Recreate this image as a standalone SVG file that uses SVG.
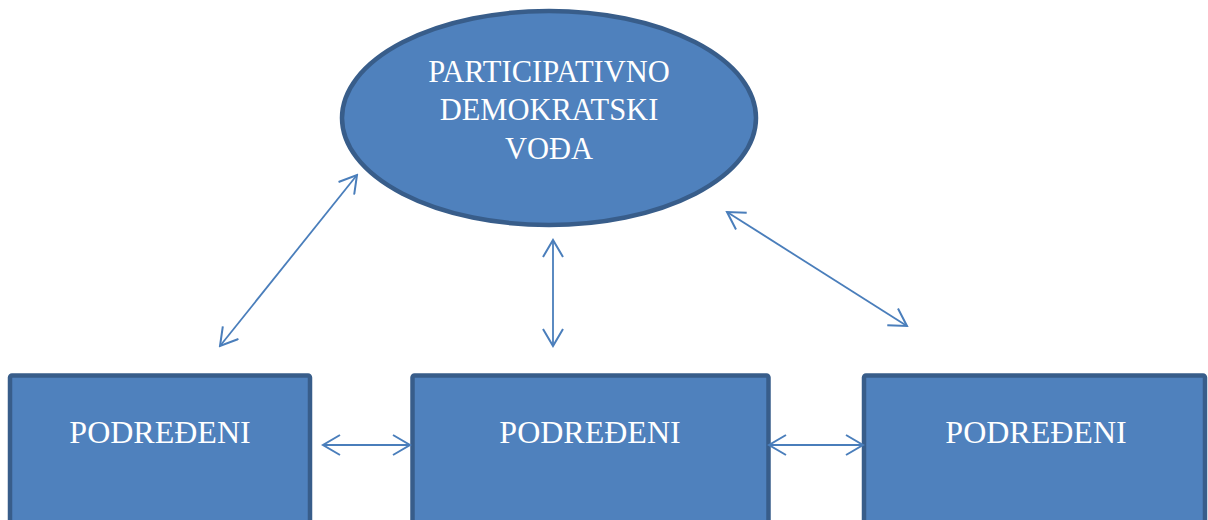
<svg xmlns="http://www.w3.org/2000/svg" width="1208" height="520" viewBox="0 0 1208 520">
<style>
.node{fill:#4F81BD;stroke:#385D8A;stroke-width:4.5}
.lbl{font-family:"Liberation Serif","Times New Roman",serif;fill:#FFFFFF;text-anchor:middle}
.con{stroke:#4A7EBB;stroke-width:1.8;fill:none}
</style>
<defs>
<marker id="ah" viewBox="0 0 20 22" refX="18" refY="11" markerWidth="20" markerHeight="22" markerUnits="userSpaceOnUse" orient="auto-start-reverse">
<path d="M1,1 L18,11 L1,21" fill="none" stroke="#4A7EBB" stroke-width="2"/>
</marker>
</defs>
<rect width="1208" height="520" fill="#FFFFFF"/>
<g id="leader">
<ellipse class="node" cx="549" cy="118" rx="207" ry="107"/>
<text class="lbl" font-size="30.5" x="549" y="82">PARTICIPATIVNO</text>
<text class="lbl" font-size="30.5" x="549" y="120">DEMOKRATSKI</text>
<text class="lbl" font-size="30.5" x="549" y="159">VOĐA</text>
</g>
<g id="sub1">
<rect class="node" x="10" y="375.5" width="300" height="150" rx="2"/>
<text class="lbl" font-size="32" x="160" y="443">PODREĐENI</text>
</g>
<g id="sub2">
<rect class="node" x="412.5" y="375.5" width="356" height="150" rx="2"/>
<text class="lbl" font-size="32" x="590" y="443">PODREĐENI</text>
</g>
<g id="sub3">
<rect class="node" x="864" y="375.5" width="341" height="150" rx="2"/>
<text class="lbl" font-size="32" x="1036" y="443">PODREĐENI</text>
</g>
<g id="connectors">
<line class="con" x1="220" y1="346" x2="357" y2="175" marker-start="url(#ah)" marker-end="url(#ah)"/>
<line class="con" x1="553" y1="240" x2="553" y2="346" marker-start="url(#ah)" marker-end="url(#ah)"/>
<line class="con" x1="727" y1="212" x2="907" y2="326" marker-start="url(#ah)" marker-end="url(#ah)"/>
<line class="con" x1="323" y1="445" x2="410" y2="445" marker-start="url(#ah)" marker-end="url(#ah)"/>
<line class="con" x1="769" y1="445" x2="863" y2="445" marker-start="url(#ah)" marker-end="url(#ah)"/>
</g>
</svg>
